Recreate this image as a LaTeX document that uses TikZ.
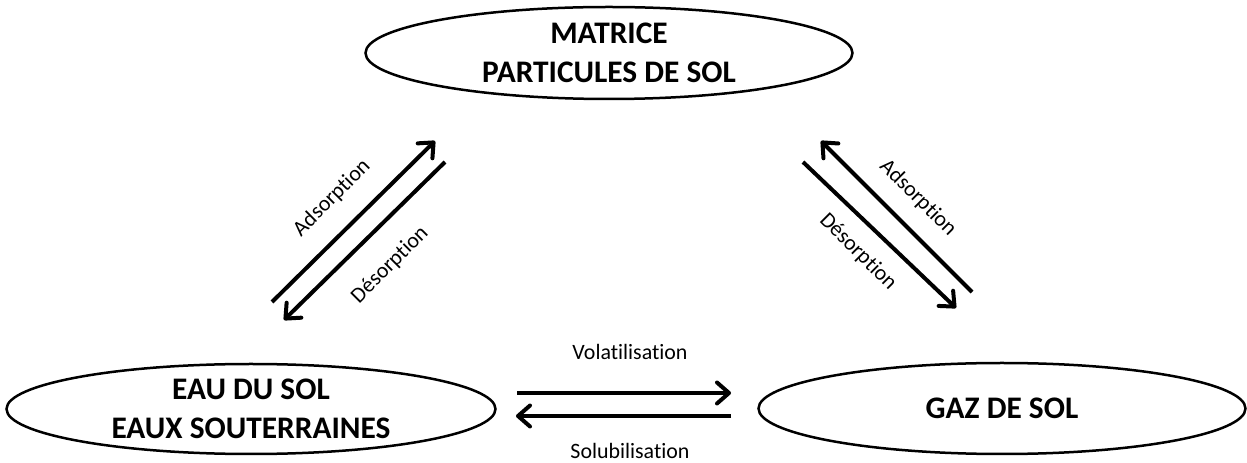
\documentclass[tikz,border=0pt]{standalone}
\usepackage{fontspec}
\setmainfont{Carlito}[Ligatures=NoCommon]
\usetikzlibrary{shapes.geometric,arrows.meta}
\begin{document}
\begin{tikzpicture}[x=1bp,y=-1bp,
 compart/.style={ellipse,draw,line width=2.5bp,inner sep=0pt,align=center,
   font=\fontsize{31.5}{39}\selectfont\bfseries},
 flow/.style={line width=4bp,-{Straight Barb[length=12bp,width=21bp,round]}},
 lbl/.style={font=\fontsize{22}{26}\selectfont,inner sep=0pt}]
\useasboundingbox (0,0) rectangle (1247,463);
\node[compart,minimum width=487bp,minimum height=92bp] (mat) at (609,53) {MATRICE\\PARTICULES DE SOL};
\node[compart,minimum width=489bp,minimum height=90bp] (eau) at (251,409) {EAU DU SOL\\EAUX SOUTERRAINES};
\node[compart,minimum width=487bp,minimum height=91bp] (gaz) at (1002,408.5) {GAZ DE SOL};
% arrow end points
\coordinate (la1) at (272,302); \coordinate (la2) at (435,141);
\coordinate (ld1) at (445,162); \coordinate (ld2) at (284,320);
\coordinate (ra1) at (972,292); \coordinate (ra2) at (821,141);
\coordinate (rd1) at (803,162); \coordinate (rd2) at (956,308);
\coordinate (v1) at (517,393); \coordinate (v2) at (731,393);
\coordinate (s1) at (731,416); \coordinate (s2) at (516,416);
\draw[flow] (la1) -- (la2);
\draw[flow] (ld1) -- (ld2);
\draw[flow] (ra1) -- (ra2);
\draw[flow] (rd1) -- (rd2);
\draw[flow] (v1) -- (v2);
\draw[flow] (s1) -- (s2);
\node[lbl,rotate=45] (lal) at (332,198) {Adsorption};
\node[lbl,rotate=45] (ldl) at (390,265) {Désorption};
\node[lbl,rotate=-45] (ral) at (918,198) {Adsorption};
\node[lbl,rotate=-45] (rdl) at (858,252) {Désorption};
\node[lbl,anchor=base] (vl) at (630,360) {Volatilisation};
\node[lbl,anchor=base] (sl) at (630,459) {Solubilisation};
\end{tikzpicture}
\end{document}
